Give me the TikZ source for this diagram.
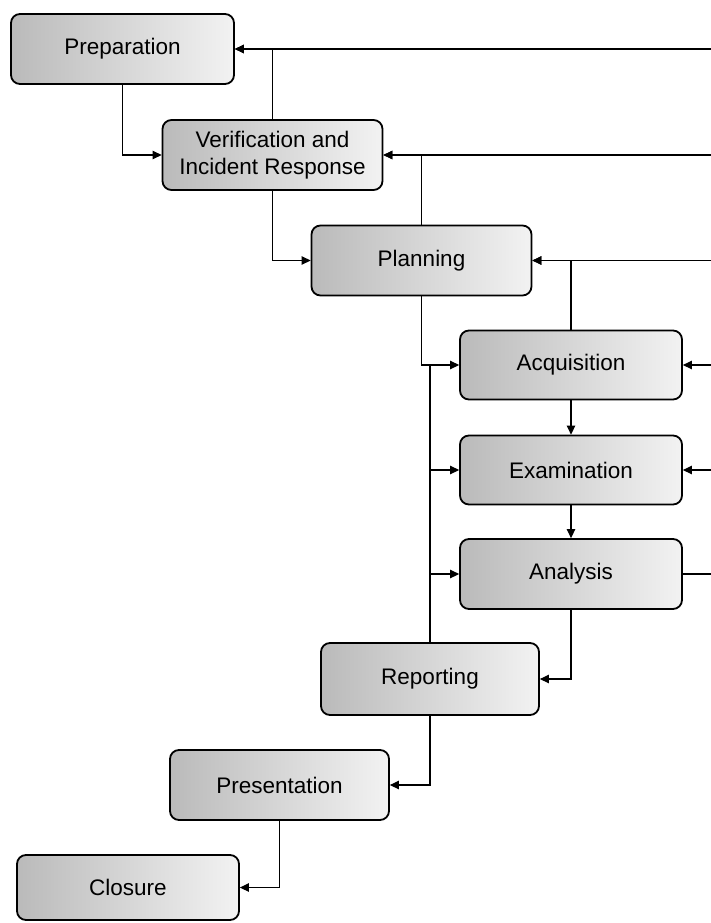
\documentclass[tikz,border=0pt]{standalone}
\usepackage{fontspec}
\setmainfont{Liberation Sans}
\usetikzlibrary{arrows.meta}

\tikzset{
  stage/.style={draw=black, line width=1.8pt, rounded corners=9pt,
    left color=black!27, right color=black!5,
    minimum width=220pt, minimum height=70pt, inner sep=2pt,
    align=center, font=\fontsize{22.5}{27}\selectfont},
  flow/.style={draw=black, line width=1.2pt, -{Triangle[length=9pt,width=8.5pt]}},
  wire/.style={draw=black, line width=1.2pt}
}

\begin{document}
\begin{tikzpicture}[x=1pt, y=-1pt]
  \useasboundingbox (0,0) rectangle (711,923);

  % process stages
  \node[stage, minimum width=223pt] (prep) at (122.5,49) {Preparation};
  \node[stage] (ver)  at (272.5,155) {Verification and\\Incident Response};
  \node[stage] (plan) at (421.5,260.5) {Planning};
  \node[stage, minimum width=222pt, minimum height=69pt] (acq)  at (571,365) {Acquisition};
  \node[stage, minimum width=222pt, minimum height=69pt] (exam) at (571,470) {Examination};
  \node[stage, minimum width=222pt] (ana)  at (571,574) {Analysis};
  \node[stage, minimum width=218pt, minimum height=72pt] (rep)  at (430,679) {Reporting};
  \node[stage, minimum width=219pt] (pres) at (279.5,785) {Presentation};
  \node[stage, minimum width=222pt, minimum height=65pt] (clo)  at (128,887.5) {Closure};

  % right-hand return rail
  \coordinate (rail) at (711,0);

  % forward flow
  \path[flow] (prep.south) |- (ver.west);
  \path[flow] (ver.south) |- (plan.west);
  \path[flow] (plan.south) |- (acq.west);
  \path[flow] (acq.south) -- (exam.north);
  \path[flow] (exam.south) -- (ana.north);
  \path[flow] (ana.south) |- (rep.east);
  \path[flow] (rep.south) |- (pres.east);
  \path[flow] (pres.south) |- (clo.east);

  % step-back loops
  \path[flow] (ver.north) |- (prep.east);
  \path[flow] (plan.north) |- (ver.east);
  \path[flow] (acq.north) |- (plan.east);

  % reporting back to the analysis stages
  \path[wire] (rep.north) -- (rep.north |- acq.west);
  \path[flow] (rep.north |- exam.west) -- (exam.west);
  \path[flow] (rep.north |- ana.west) -- (ana.west);

  % lines to and from the rail
  \path[flow] (rail |- prep.east) -- (prep.east);
  \path[flow] (rail |- ver.east) -- (ver.east);
  \path[flow] (rail |- plan.east) -- (plan.east);
  \path[flow] (rail |- acq.east) -- (acq.east);
  \path[flow] (rail |- exam.east) -- (exam.east);
  \path[wire] (ana.east) -- (rail |- ana.east);
\end{tikzpicture}
\end{document}
